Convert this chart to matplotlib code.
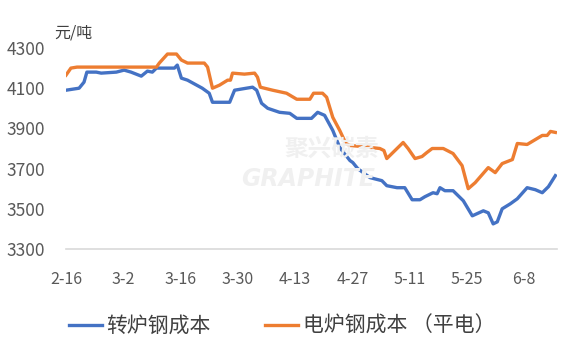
import matplotlib.pyplot as plt

plt.rcParams['font.family'] = ['Noto Sans CJK SC', 'DejaVu Sans']

# 日期按距 2-16 的天数计
tick_days = [0, 14, 28, 42, 56, 70, 84, 98, 112]
tick_labels = ['2-16', '3-2', '3-16', '3-30', '4-13', '4-27', '5-11', '5-25', '6-8']

# 转炉钢成本
bof_days = [0, 3.2, 4.4, 5.1, 7.4, 8.6, 12.3, 14.2, 15.9, 18.4, 19.9, 21.1, 22.1, 26.5,
            27.2, 28.2, 29.7, 33.3, 35.0, 35.8, 40.0, 41.2, 44.1, 45.6, 46.6, 47.8, 49.3,
            52.2, 54.7, 56.4, 60.0, 61.5, 63.2, 65.2, 66.9, 69.4, 70.1, 71.3, 74.3, 77.2,
            78.4, 80.9, 82.8, 84.6, 86.5, 87.7, 89.7, 90.7, 91.4, 92.6, 94.6, 97.1, 99.3,
            102.0, 103.2, 104.4, 105.4, 106.6, 108.6, 110.3, 112.7, 114.7, 116.4, 117.9, 119.6]
bof_cost = [4090, 4100, 4130, 4180, 4180, 4175, 4180, 4190, 4180, 4160, 4185, 4180, 4200, 4200,
            4215, 4150, 4140, 4100, 4075, 4030, 4030, 4090, 4100, 4105, 4090, 4025, 4000,
            3980, 3975, 3950, 3950, 3980, 3965, 3890, 3805, 3740, 3730, 3700, 3655, 3640,
            3615, 3605, 3605, 3545, 3545, 3560, 3580, 3575, 3605, 3590, 3590, 3540, 3465,
            3490, 3480, 3425, 3435, 3500, 3525, 3550, 3605, 3595, 3580, 3610, 3665]

# 电炉钢成本（平电）
eaf_days = [0, 1.2, 2.7, 22.1, 22.8, 24.8, 27.0, 28.2, 29.7, 33.8, 34.6, 35.8, 37.5, 39.5,
            40.2, 40.7, 43.6, 46.1, 46.8, 47.5, 50.5, 53.9, 56.4, 59.6, 60.5, 62.7, 63.7,
            65.2, 66.9, 68.4, 69.4, 72.3, 76.7, 77.7, 78.4, 79.9, 82.4, 83.6, 85.3, 87.0,
            88.2, 89.5, 92.2, 94.6, 96.8, 98.3, 100.0, 103.2, 104.9, 106.6, 109.1, 110.3,
            112.7, 116.4, 117.6, 118.4, 119.6]
eaf_cost = [4165, 4200, 4205, 4205, 4225, 4270, 4270, 4240, 4225, 4225, 4205, 4100, 4115, 4140,
            4140, 4175, 4170, 4175, 4155, 4105, 4090, 4075, 4045, 4045, 4075, 4075, 4055,
            3955, 3890, 3825, 3815, 3810, 3800, 3790, 3750, 3780, 3830, 3800, 3750, 3760,
            3780, 3800, 3800, 3775, 3715, 3600, 3630, 3705, 3680, 3725, 3745, 3825,
            3820, 3865, 3865, 3885, 3880]

fig = plt.figure(figsize=(5.81, 3.5), dpi=100)
ax = fig.add_axes([66 / 581, 101 / 350, 491 / 581, 201 / 350])

# 水印
fig.text(0.57, 0.575, '聚兴碳素', fontsize=17, color='#f0f0f0', fontweight='bold',
         ha='center', va='center', zorder=0)
fig.text(0.53, 0.49, 'GRAPHITE', fontsize=17, color='#f0f0f0', fontweight='bold',
         fontstyle='italic', ha='center', va='center', zorder=0, family='DejaVu Sans')

l1, = ax.plot(bof_days, bof_cost, color='#4472C4', linewidth=2.4, label='转炉钢成本')
l2, = ax.plot(eaf_days, eaf_cost, color='#ED7D31', linewidth=2.4, label='电炉钢成本 （平电）')

ax.set_xlim(0, 120)
ax.set_ylim(3300, 4300)
ax.set_yticks([3300, 3500, 3700, 3900, 4100, 4300])
ax.set_xticks(tick_days)
ax.set_xticklabels(tick_labels)
ax.tick_params(axis='y', length=0, pad=15, labelsize=12.5, labelcolor='#595959')
ax.tick_params(axis='x', length=0, pad=16, labelsize=11.5, labelcolor='#595959')
for s in ['top', 'right', 'left']:
    ax.spines[s].set_visible(False)
ax.spines['bottom'].set_color('#d9d9d9')
ax.spines['bottom'].set_linewidth(1.2)
ax.patch.set_alpha(0)

fig.text(54 / 581, 1 - 33 / 350, '元/吨', fontsize=11.5, color='#404040', va='center', ha='left')

fig.legend(handles=[l1, l2], loc='center', bbox_to_anchor=(282 / 581, 1 - 326 / 350),
           ncol=2, frameon=False, fontsize=15, handlelength=1.6, handletextpad=0.2,
           columnspacing=2.6, labelcolor='#404040')

fig.savefig('out.png', dpi=100)
